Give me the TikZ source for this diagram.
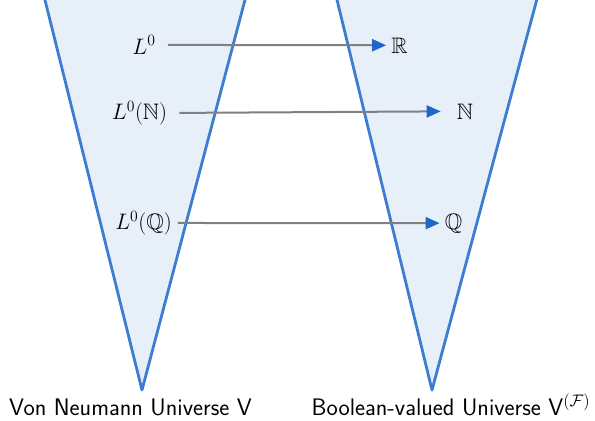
\RequirePackage{fix-cm}
\documentclass[tikz,border=0pt]{standalone}
\usepackage{amssymb}
\usetikzlibrary{arrows.meta}
\definecolor{conefill}{HTML}{E7EFF9}
\definecolor{coneedge}{HTML}{3C7DD2}
\definecolor{tipblue}{HTML}{1F66C9}
\definecolor{shaftgray}{HTML}{808080}
\begin{document}
\begin{tikzpicture}[x=1bp, y=-1bp, line join=round, font=\fontsize{22.5}{27}\selectfont,
		map/.style={draw=shaftgray, line width=2bp, -{Triangle[length=14bp, width=12bp, color=tipblue]}},
		lbl/.style={inner sep=0pt, anchor=base},
		universe/.style={inner sep=0pt, anchor=base, font=\sffamily\fontsize{24}{28}\selectfont}]
	\useasboundingbox (0,0) rectangle (595,420);
	\begin{scope}
		\clip (0,0) rectangle (595,420);
		% the two cones
		\foreach \n/\l/\r/\a in {V/42.5/247.6/142, B/334.6/539.4/432}{
			\fill[conefill] (\l,-10) coordinate(\n l) -- (\a,390) coordinate(\n a) -- (\r,-10) coordinate(\n r) -- cycle;
			\draw[coneedge, line width=2.8bp] (\n l) -- (\n a) -- (\n r);}
	\end{scope}
	% objects inside V and their images
	\node[lbl] (l0) at (144,54) {$L^0$};
	\node[lbl] (lN) at (139.5,119.3) {$L^0(\mathbb{N})$};
	\node[lbl] (lQ) at (143.5,229.3) {$L^0(\mathbb{Q})$};
	\node[lbl] (R) at (399.5,53) {$\mathbb{R}$};
	\node[lbl] (N) at (465,119) {$\mathbb{N}$};
	\node[lbl] (Q) at (453.5,229) {$\mathbb{Q}$};
	\foreach \s/\t/\a/\b in {l0/R/12/5, lN/N/12/16, lQ/Q/6/5}
		\draw[map, shorten <=\a bp, shorten >=\b bp] (\s.east) -- (\t.west);
	% captions
	\node[universe] (capV) at (130.5,415) {Von Neumann Universe V};
	\node[universe] (capB) at (451,415) {Boolean-valued Universe V$^{(\mathcal{F})}$};
\end{tikzpicture}
\end{document}
